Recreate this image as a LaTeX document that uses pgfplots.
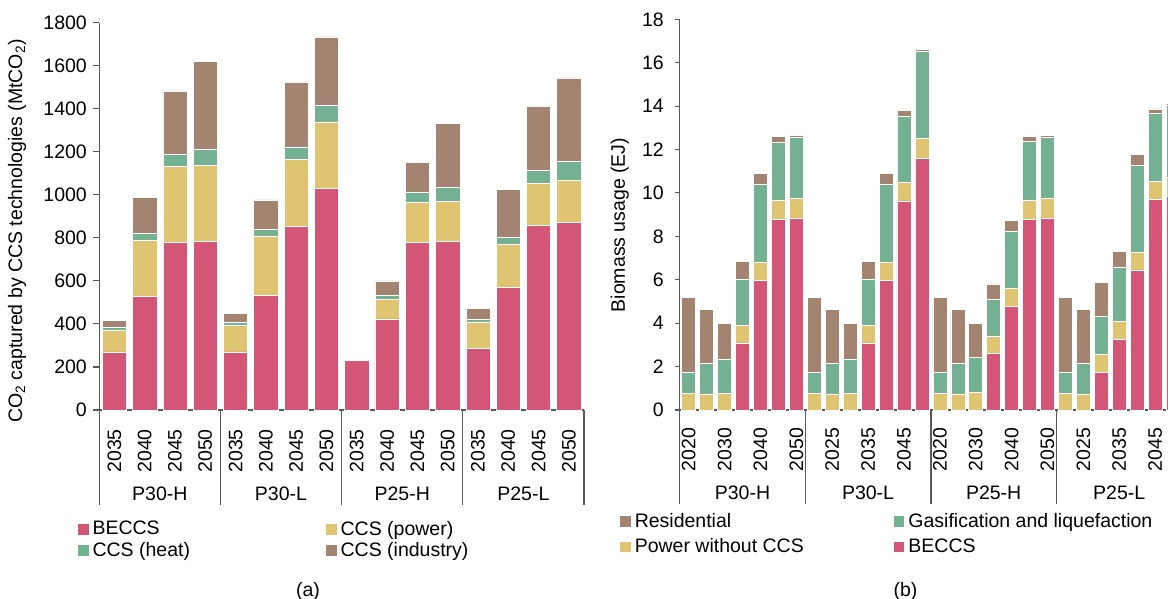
\documentclass[border=0pt]{standalone}
\usepackage{fontspec}
\setmainfont{Liberation Sans}
\usepackage{pgfplots}
\pgfplotsset{compat=1.18}
\usepackage{pgfplotstable}
\definecolor{cbeccs}{HTML}{D35677}
\definecolor{cpower}{HTML}{DFC472}
\definecolor{cheat}{HTML}{74B092}
\definecolor{cind}{HTML}{A28471}
\definecolor{axgray}{HTML}{595959}

\pgfplotstableread{
x b p h i
0 270 101 13 34
1 529 260 31 167
2 779 353 56 295
3 784 353 77 407
4 270 123 14 42
5 532 277 32 136
6 854 310 59 302
7 1030 309 77 318
8 231 0 0 0
9 424 91 17 68
10 779 187 47 138
11 783 188 62 298
12 288 122 11 51
13 571 198 32 226
14 858 197 60 298
15 871 196 88 389
}\tabA

\pgfplotstableread{
x b p g r
0 0 0.77 0.98 3.43
1 0 0.74 1.41 2.50
2 0 0.77 1.58 1.65
3 3.09 0.80 2.15 0.80
4 5.98 0.81 3.62 0.50
5 8.79 0.87 2.66 0.28
6 8.85 0.90 2.83 0.06
7 0 0.77 0.98 3.43
8 0 0.74 1.41 2.50
9 0 0.77 1.58 1.65
10 3.09 0.80 2.15 0.80
11 5.98 0.81 3.62 0.50
12 9.63 0.86 3.03 0.27
13 11.60 0.92 3.99 0.09
14 0 0.77 0.98 3.43
15 0 0.74 1.41 2.50
16 0 0.80 1.64 1.56
17 2.61 0.80 1.69 0.71
18 4.79 0.80 2.63 0.50
19 8.79 0.87 2.71 0.23
20 8.85 0.90 2.82 0.07
21 0 0.77 0.98 3.43
22 0 0.74 1.41 2.50
23 1.75 0.82 1.73 1.57
24 3.26 0.81 2.49 0.75
25 6.45 0.80 4.01 0.51
26 9.69 0.86 3.10 0.22
27 9.83 0.89 3.32 0.10
}\tabB

\pgfplotsset{
  mystyle/.style={
    scale only axis,
    axis x line*=bottom, axis y line*=left,
    axis line style={axgray, line width=1.3pt, -},
    ybar stacked,
    ymin=0,
    xtick style={draw=none},
    ytick style={axgray, line width=1.1pt},
    tick align=outside,
    clip=false,
    /pgf/number format/assume math mode=true,
    /pgf/number format/1000 sep={},
    xticklabel style={rotate=90, anchor=east, inner sep=0pt},
    yticklabel style={anchor=east, inner sep=0pt},
    every axis plot/.append style={draw=white, line width=0.5pt},
    legend cell align=left,
    legend image code/.code={\fill[##1,draw=none] (0pt,-5.3pt) rectangle (10.6pt,5.3pt);},
  }
}

\begin{document}
\fontsize{19.5}{23}\selectfont
\begin{tikzpicture}[font=\fontsize{19.5}{23}\selectfont]
\begin{axis}[mystyle,
  at={(99.2pt,189pt)}, anchor=south west,
  width=484.8pt, height=387.3pt,
  xmin=-0.5, xmax=15.5, ymax=1800,
  bar width=24.3pt,
  major tick length=6.3pt,
  ytick={0,200,...,1800},
  xtick={0,...,15},
  xticklabels={2035,2040,2045,2050,2035,2040,2045,2050,2035,2040,2045,2050,2035,2040,2045,2050},
  xticklabel shift=12.7pt,
  yticklabel shift=5.9pt,
  ylabel={CO\textsubscript{2} captured by CCS technologies (MtCO\textsubscript{2})},
  ylabel style={at={(axis description cs:-0.1696,0.462)}, anchor=center},
  legend style={draw=none, fill=none, inner sep=0pt,
    at={(axis description cs:-0.0443,-0.281)}, anchor=north west,
    legend columns=2,
    nodes={inner sep=2pt},
    /tikz/every odd column/.append style={column sep=2pt},
    /tikz/every even column/.append style={column sep=134pt}},
]
\addplot[fill=cbeccs] table[x=x,y=b]{\tabA};
\addplot[fill=cpower] table[x=x,y=p]{\tabA};
\addplot[fill=cheat] table[x=x,y=h]{\tabA};
\addplot[fill=cind] table[x=x,y=i]{\tabA};
\legend{BECCS, CCS (power), CCS (heat), CCS (industry)}
\pgfplotsinvokeforeach{-0.5,3.5,7.5,11.5,15.5}{
  \draw[axgray, line width=1.3pt] (axis cs:#1,0) -- ++(0pt,-95pt);
}
\node[yshift=-83.3pt] at (axis cs:1.5,0) {P30-H};
\node[yshift=-83.3pt] at (axis cs:5.5,0) {P30-L};
\node[yshift=-83.3pt] at (axis cs:9.5,0) {P25-H};
\node[yshift=-83.3pt] at (axis cs:13.5,0) {P25-L};
\end{axis}

\begin{axis}[mystyle,
  at={(679.7pt,189pt)}, anchor=south west,
  width=502.3pt, height=390.7pt,
  xmin=-0.5, xmax=27.5, ymax=18,
  bar width=14pt,
  major tick length=4.4pt,
  ytick={0,2,...,18},
  xtick={0,2,...,26},
  xticklabels={2020,2030,2040,2050,2025,2035,2045,2020,2030,2040,2050,2025,2035,2045},
  xticklabel shift=13.3pt,
  yticklabel shift=11.3pt,
  ylabel={Biomass usage (EJ)},
  ylabel style={at={(axis description cs:-0.119,0.4735)}, anchor=center},
  reverse legend,
  legend style={draw=none, fill=none, inner sep=0pt,
    at={(axis description cs:-0.1189,-0.2577)}, anchor=north west,
    legend columns=2,
    nodes={inner sep=2pt},
    row sep=4.5pt,
    /tikz/every odd column/.append style={column sep=2pt},
    /tikz/every even column/.append style={column sep=88pt}},
]
\addplot[fill=cbeccs] table[x=x,y=b]{\tabB};
\addplot[fill=cpower] table[x=x,y=p]{\tabB};
\addplot[fill=cheat] table[x=x,y=g]{\tabB};
\addplot[fill=cind] table[x=x,y=r]{\tabB};
\legend{BECCS, Power without CCS, Gasification and liquefaction, Residential}
\pgfplotsinvokeforeach{-0.5,6.5,13.5,20.5,27.5}{
  \draw[axgray, line width=1.3pt] (axis cs:#1,0) -- ++(0pt,-94pt);
}
\node[yshift=-82.7pt] at (axis cs:3,0) {P30-H};
\node[yshift=-82.7pt] at (axis cs:10,0) {P30-L};
\node[yshift=-82.7pt] at (axis cs:17,0) {P25-H};
\node[yshift=-82.7pt] at (axis cs:24,0) {P25-L};
\end{axis}

\node at (308pt,7.3pt) {(a)};
\node at (905.5pt,7.3pt) {(b)};
\pgfresetboundingbox
\useasboundingbox (0pt,0pt) rectangle (1168pt,599pt);
\end{tikzpicture}
\end{document}
